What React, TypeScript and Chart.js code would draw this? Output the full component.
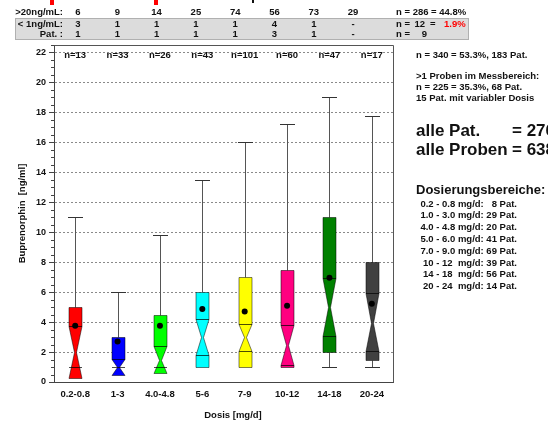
import React, { useEffect, useRef } from "react";
import { Chart, registerables } from "chart.js";

Chart.register(...registerables);

const categories = ["0.2-0.8", "1-3", "4.0-4.8", "5-6", "7-9", "10-12", "14-18", "20-24"];
const counts = [13, 33, 26, 43, 101, 60, 47, 17];
const whiskerHigh = [11, 6, 9.8, 13.5, 16, 17.25, 19, 17.75];
const whiskerLow = [0.27, 0.45, 0.58, 0.98, 0.98, 0.98, 1.0, 1.0];
const q3 = [5, 3, 4.49, 6, 7, 7.47, 11, 8];
const q1 = [0.27, 0.45, 0.58, 0.98, 0.98, 0.98, 2.0, 1.49];
const notchHigh = [3.71, 1.55, 2.42, 4.18, 3.87, 3.82, 6.96, 5.91];
const medians = [2.0, 1.0, 1.47, 2.98, 2.98, 2.49, 5.02, 3.91];
const notchLow = [0.27, 0.45, 0.58, 1.8, 2.04, 1.16, 3.07, 2.07];
const lowerLine = [1.0, 1.0, 1.0, 1.8, 2.04, 1.16, 3.07, 2.07];
const means = [3.75, 2.7, 3.75, 4.87, 4.71, 5.09, 6.96, 5.22];
const colors = ["#ff0000", "#0000ff", "#00ff00", "#00ffff", "#ffff00", "#ff0080", "#008000", "#404040"];

const over20 = ["6", "9", "14", "25", "74", "56", "73", "29"];
const under1 = ["3", "1", "1", "1", "1", "4", "1", "-"];
const patients = ["1", "1", "1", "1", "1", "3", "1", "-"];

const infoLines = ["n = 340 = 53.3%, 183 Pat.", ">1 Proben im Messbereich:", "n = 225 = 35.3%, 68 Pat.", "15 Pat. mit variabler Dosis"];
const doseRanges = [
  "0.2 - 0.8 mg/d:   8 Pat.",
  "1.0 - 3.0 mg/d: 29 Pat.",
  "4.0 - 4.8 mg/d: 20 Pat.",
  "5.0 - 6.0 mg/d: 41 Pat.",
  "7.0 - 9.0 mg/d: 69 Pat.",
  "10 - 12  mg/d: 39 Pat.",
  "14 - 18  mg/d: 56 Pat.",
  "20 - 24  mg/d: 14 Pat.",
];

const FAM = "'Liberation Sans', Arial, sans-serif";

export default function App() {
  const ref = useRef<HTMLCanvasElement>(null);

  useEffect(() => {
    document.body.style.margin = "0";
    const canvas = ref.current!;

    const boxPlugin = {
      id: "boxes",
      beforeDatasetsDraw(chart: any) {
        const { ctx, chartArea, scales } = chart;
        const x = scales.x;
        const y = scales.y;
        ctx.save();
        ctx.strokeStyle = "#555";
        ctx.lineWidth = 1;
        ctx.beginPath();
        ctx.moveTo(Math.round(chartArea.left) + 0.5, Math.round(chartArea.top) + 0.5);
        ctx.lineTo(Math.round(chartArea.right) + 0.5, Math.round(chartArea.top) + 0.5);
        ctx.lineTo(Math.round(chartArea.right) + 0.5, Math.round(chartArea.bottom) + 0.5);
        ctx.stroke();
        ctx.strokeStyle = "#444";
        for (let v = 0; v <= 22.5; v += 0.5) {
          const py = Math.round(y.getPixelForValue(v)) + 0.5;
          ctx.beginPath();
          ctx.moveTo(chartArea.left - 3, py);
          ctx.lineTo(chartArea.left, py);
          ctx.stroke();
        }
        const P = (v: number) => Math.round(y.getPixelForValue(v)) + 0.5;
        categories.forEach((_c, i) => {
          const cx = Math.round(x.getPixelForValue(i)) + 0.5;
          const hw = 6.5;
          const cap = 7.5;
          const waist = 1;
          ctx.lineWidth = 1;
          ctx.strokeStyle = "#555";
          ctx.beginPath();
          ctx.moveTo(cx, P(q3[i]));
          ctx.lineTo(cx, P(whiskerHigh[i]));
          ctx.stroke();
          ctx.strokeStyle = "#333";
          ctx.beginPath();
          ctx.moveTo(cx - cap, P(whiskerHigh[i]));
          ctx.lineTo(cx + cap, P(whiskerHigh[i]));
          ctx.stroke();
          if (whiskerLow[i] < q1[i] - 0.01) {
            ctx.strokeStyle = "#555";
            ctx.beginPath();
            ctx.moveTo(cx, P(q1[i]));
            ctx.lineTo(cx, P(whiskerLow[i]));
            ctx.stroke();
            ctx.strokeStyle = "#333";
            ctx.beginPath();
            ctx.moveTo(cx - cap, P(whiskerLow[i]));
            ctx.lineTo(cx + cap, P(whiskerLow[i]));
            ctx.stroke();
          }
          ctx.beginPath();
          ctx.moveTo(cx - hw, P(q3[i]));
          ctx.lineTo(cx + hw, P(q3[i]));
          ctx.lineTo(cx + hw, P(notchHigh[i]));
          ctx.lineTo(cx + waist, P(medians[i]));
          ctx.lineTo(cx + hw, P(notchLow[i]));
          ctx.lineTo(cx + hw, P(q1[i]));
          ctx.lineTo(cx - hw, P(q1[i]));
          ctx.lineTo(cx - hw, P(notchLow[i]));
          ctx.lineTo(cx - waist, P(medians[i]));
          ctx.lineTo(cx - hw, P(notchHigh[i]));
          ctx.closePath();
          ctx.fillStyle = colors[i];
          ctx.fill();
          ctx.strokeStyle = "rgba(0,0,0,0.5)";
          ctx.stroke();
          ctx.strokeStyle = "rgba(0,0,0,0.7)";
          [notchHigh[i], lowerLine[i]].forEach((v) => {
            ctx.beginPath();
            ctx.moveTo(cx - hw, P(v));
            ctx.lineTo(cx + hw, P(v));
            ctx.stroke();
          });
        });
        ctx.restore();
      },
      afterDraw(chart: any) {
        const { ctx, scales } = chart;
        const x = scales.x;
        ctx.save();
        ctx.textBaseline = "middle";
        ctx.fillStyle = "#111";
        ctx.font = `bold 9.5px ${FAM}`;
        ctx.textAlign = "center";
        counts.forEach((n, i) => {
          ctx.fillText(`n=${n}`, x.getPixelForValue(i), 55);
        });
        ctx.fillText("Dosis [mg/d]", 233, 415);
        ctx.fillStyle = "#ff0000";
        ctx.fillRect(50, 0, 4, 5);
        ctx.fillRect(154, 0, 4, 5);
        ctx.fillStyle = "#111";
        ctx.fillRect(252, 0, 2, 3);
        ctx.fillStyle = "#dcdcdc";
        ctx.fillRect(15, 18, 454, 22);
        ctx.strokeStyle = "#b0b0b0";
        ctx.lineWidth = 1;
        ctx.strokeRect(15.5, 18.5, 453, 21);
        ctx.fillStyle = "#111";
        const rowsY = [12, 24.5, 34.5];
        ctx.textAlign = "right";
        ctx.fillText(">20ng/mL:", 63, rowsY[0]);
        ctx.fillText("< 1ng/mL:", 63, rowsY[1]);
        ctx.fillText("Pat. :", 63, rowsY[2]);
        ctx.textAlign = "center";
        [over20, under1, patients].forEach((row, r) => {
          row.forEach((t, i) => ctx.fillText(t, 78 + i * 39.3, rowsY[r]));
        });
        ctx.textAlign = "left";
        ctx.fillText("n = 286 = 44.8%", 396, rowsY[0]);
        ctx.fillText("n =", 396, rowsY[1]);
        ctx.fillText("n =", 396, rowsY[2]);
        ctx.textAlign = "right";
        ctx.fillText("12", 425, rowsY[1]);
        ctx.fillText("9", 427, rowsY[2]);
        ctx.textAlign = "left";
        ctx.fillText("=", 430, rowsY[1]);
        ctx.fillStyle = "#ff0000";
        ctx.fillText("1.9%", 444, rowsY[1]);
        ctx.fillStyle = "#111";
        const infoY = [55, 76, 87, 98];
        infoLines.forEach((t, i) => ctx.fillText(t, 416, infoY[i]));
        ctx.font = `bold 17px ${FAM}`;
        ctx.fillText("alle Pat.", 416, 131);
        ctx.fillText("= 276", 512, 131);
        ctx.fillText("alle Proben", 416, 150);
        ctx.fillText("= 638", 512, 150);
        ctx.font = `bold 13px ${FAM}`;
        ctx.fillText("Dosierungsbereiche:", 416, 190);
        ctx.font = `bold 9.5px ${FAM}`;
        ctx.textAlign = "right";
        doseRanges.forEach((t, i) => ctx.fillText(t, 517, 204 + i * 11.8));
        ctx.restore();
      },
    };

    const font = { family: FAM, size: 9.5, weight: "bold" as const };

    const chart = new Chart(canvas, {
      type: "line",
      data: {
        labels: categories,
        datasets: [
          {
            data: means,
            showLine: false,
            pointRadius: 3,
            pointHoverRadius: 3,
            pointBackgroundColor: "#000",
            pointBorderColor: "#000",
            pointBorderWidth: 0,
          },
        ],
      },
      options: {
        animation: false,
        responsive: false,
        events: [],
        layout: { padding: { left: 0, right: 155, top: 45, bottom: 0 } },
        plugins: { legend: { display: false }, tooltip: { enabled: false } },
        scales: {
          x: {
            type: "category",
            offset: true,
            grid: { display: false, drawTicks: false },
            border: { display: true, color: "#444" },
            ticks: { font, color: "#111", padding: 7, maxRotation: 0, autoSkip: false },
            title: { display: false },
            afterFit: (s: any) => {
              s.height = 41;
            },
          },
          y: {
            min: 0,
            max: 22.5,
            ticks: { stepSize: 2, includeBounds: false, font: { ...font, size: 9 }, color: "#111", padding: 3 },
            grid: { color: "#8a8a8a", tickColor: "#444", tickLength: 5, drawTicks: true },
            border: { display: true, color: "#444", dash: [2, 2] },
            title: { display: true, text: "Buprenorphin  [ng/ml]", font, color: "#111", padding: { top: 17, bottom: 0 } },
            afterFit: (s: any) => {
              s.width = 54;
            },
          },
        },
      },
      plugins: [boxPlugin],
    } as any);

    return () => chart.destroy();
  }, []);

  return <canvas ref={ref} width={548} height={423} style={{ display: "block", width: 548, height: 423 }} />;
}
